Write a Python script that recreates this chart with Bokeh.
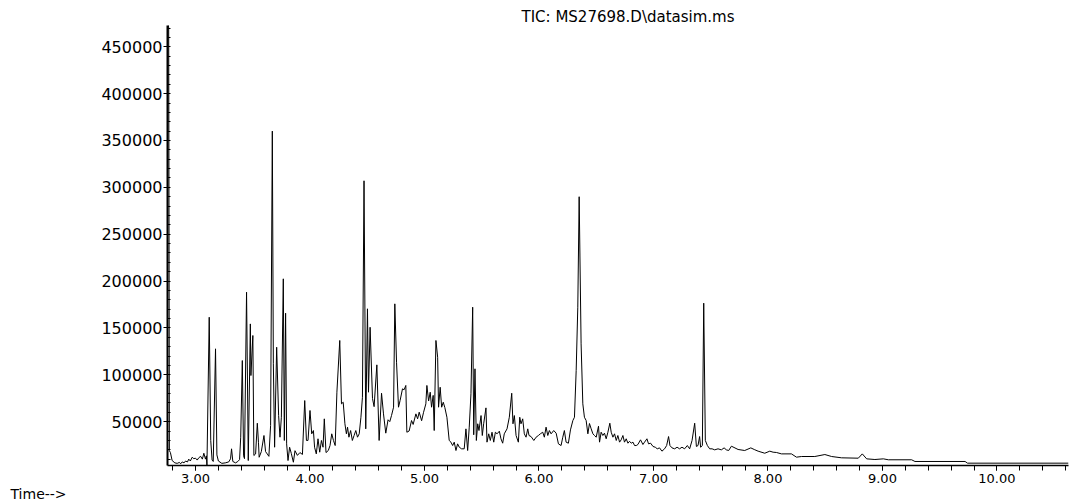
from bokeh.plotting import figure
from bokeh.models import Range1d, SingleIntervalTicker, NumeralTickFormatter, Title
from bokeh.embed import file_html
from bokeh.resources import INLINE

# Retention time (min)
time_min = [
    2.757, 2.766, 2.772, 2.781, 2.796, 2.820, 2.840, 2.860, 2.870, 2.884,
    2.900, 2.913, 2.930, 2.941, 2.955, 2.971, 2.985, 3.000, 3.015, 3.029,
    3.045, 3.060, 3.073, 3.087, 3.095, 3.100, 3.120, 3.133, 3.145, 3.155,
    3.175, 3.187, 3.200, 3.230, 3.260, 3.290, 3.306, 3.315, 3.326, 3.350,
    3.370, 3.385, 3.395, 3.409, 3.420, 3.428, 3.446, 3.461, 3.479, 3.484,
    3.501, 3.510, 3.525, 3.540, 3.550, 3.556, 3.575, 3.598, 3.612, 3.627,
    3.641, 3.656, 3.671, 3.680, 3.691, 3.709, 3.726, 3.738, 3.750, 3.767,
    3.776, 3.787, 3.796, 3.808, 3.822, 3.837, 3.855, 3.869, 3.890, 3.912,
    3.934, 3.954,
    3.969, 3.983, 4.000, 4.015, 4.030, 4.040, 4.055, 4.070, 4.085, 4.100,
    4.114, 4.125, 4.140, 4.160, 4.175, 4.190, 4.205, 4.220, 4.235, 4.260,
    4.275, 4.290, 4.305, 4.318, 4.328, 4.340, 4.355, 4.370, 4.385, 4.400,
    4.415, 4.430, 4.445, 4.458, 4.472, 4.487, 4.502, 4.511, 4.525, 4.546,
    4.560, 4.584, 4.604, 4.625, 4.642, 4.662, 4.682, 4.697, 4.712, 4.730,
    4.741, 4.756, 4.773, 4.787, 4.808, 4.822, 4.837, 4.846, 4.866, 4.887,
    4.901, 4.925, 4.940, 4.954, 4.975, 4.992, 5.012, 5.021, 5.036, 5.050,
    5.062, 5.076, 5.085, 5.100, 5.115, 5.123, 5.137, 5.150, 5.164, 5.178,
    5.196,
    5.216, 5.231, 5.246, 5.260, 5.275, 5.289, 5.304, 5.324, 5.347, 5.362,
    5.377, 5.391, 5.406, 5.421, 5.430, 5.441, 5.453, 5.465, 5.476, 5.494,
    5.505, 5.517, 5.537, 5.546, 5.561, 5.575, 5.590, 5.605, 5.619, 5.634,
    5.654, 5.668, 5.683, 5.697, 5.721, 5.741, 5.762, 5.773, 5.785, 5.800,
    5.820, 5.832, 5.843, 5.858, 5.872, 5.887, 5.902, 5.913, 5.931, 5.955,
    5.975, 5.995, 6.012, 6.033, 6.047, 6.062, 6.077, 6.091, 6.106, 6.129,
    6.150, 6.170, 6.193, 6.208, 6.222, 6.237, 6.257, 6.275, 6.296, 6.310,
    6.325, 6.339, 6.351, 6.368, 6.383, 6.397, 6.412, 6.427, 6.441,
    6.456, 6.471, 6.485, 6.500, 6.520, 6.529, 6.543, 6.558, 6.572, 6.587,
    6.602, 6.619, 6.631, 6.646, 6.660, 6.675, 6.689, 6.704, 6.718, 6.733,
    6.747, 6.762, 6.777, 6.791, 6.806, 6.821, 6.835, 6.850, 6.864, 6.887,
    6.908, 6.922, 6.943, 6.957, 6.975, 6.996, 7.016, 7.033, 7.053, 7.074,
    7.097, 7.115, 7.132, 7.144, 7.162, 7.185, 7.206, 7.228, 7.249, 7.272,
    7.296, 7.316, 7.337, 7.360, 7.375, 7.389, 7.403, 7.412, 7.427, 7.439,
    7.453, 7.471, 7.491, 7.512, 7.535, 7.564, 7.593, 7.617, 7.637, 7.657,
    7.681,
    7.739, 7.797, 7.850, 7.885, 7.914, 7.972, 8.016, 8.045, 8.074, 8.118,
    8.205, 8.249, 8.293, 8.409, 8.497, 8.556, 8.643, 8.789, 8.824, 8.862,
    8.934, 9.008, 9.052, 9.255, 9.284, 9.722, 9.743, 10.625,
]

# Total ion current (abundance)
abundance = [
    480000, 470000, 19000, 17000, 8500, 6000, 5500, 6500, 5000, 7000,
    6000, 8000, 7000, 10000, 8000, 12000, 10500, 11000, 9000, 11500,
    13000, 10000, 16300, 10000, 13500, 3200, 161400, 30000, 9000, 7500,
    127700, 14500, 8000, 5500, 6000, 7000, 10300, 21000, 7500, 6000,
    7500, 9500, 33400, 115200, 13500, 10500, 188100, 8500, 154300, 99200,
    141900, 13900, 15500, 48300, 28000, 12000, 18000, 35200, 18000, 15500,
    13000, 45900, 360000, 111700, 22700, 129400, 56500, 33400, 54700, 202400,
    29900, 165700, 26300, 8500, 22700, 16000, 6700, 19000, 14000, 17000,
    15000, 72500,
    29900, 30000, 61900, 37000, 40500, 22700, 15600, 31700, 17400, 29900,
    22700, 53000, 17000, 19200, 24500, 37000, 29900, 24500, 81400, 136600,
    69000, 70700, 47700, 37000, 44100, 33400, 40500, 29900, 35200, 40500,
    33400, 37000, 54700, 76000, 307000, 42300, 170400, 81400, 150700, 74700,
    66000, 110600, 29900, 80300, 58300, 37700, 52000, 50000, 56500, 65400,
    175700, 113400, 65400, 72500, 85000, 84000, 88600, 38700, 40000, 51200,
    47000, 58300, 53000, 60100, 51000, 60000, 69000, 88600, 72000, 81400,
    65400, 78000, 40500, 136600, 118700, 65400, 86700, 65400, 70700, 65000,
    54700,
    29900, 28100, 24500, 28100, 19200, 26300, 22700, 21000, 21000, 42300,
    19200, 44100, 79700, 172100, 36000, 106400, 29900, 47700, 40500, 56500,
    35200, 47700, 64700, 28100, 37000, 29900, 38700, 28100, 38700, 37000,
    39800, 31700, 27000, 37000, 42300, 54700, 80300, 47700, 56500, 35200,
    28100, 54700, 47700, 53000, 37000, 33400, 42300, 35200, 34100, 29900,
    33400, 35200, 37000, 38700, 33400, 44100, 35200, 40500, 37000, 40500,
    37700, 26300, 24500, 33400, 40500, 28100, 27000, 41200, 51200, 54700,
    104600, 172100, 290000, 133000, 69000, 54700, 51200, 37000, 48000,
    42300, 37000, 35200, 33400, 45100, 28100, 38700, 35200, 37700, 31700,
    38700, 48300, 38700, 33400, 37000, 29900, 35200, 28100, 30600, 35200,
    28100, 31700, 27000, 29000, 27000, 28100, 24500, 24500, 25600, 30600,
    25600, 28100, 31700, 26300, 27000, 23500, 22700, 21000, 22000, 18500,
    21000, 24500, 34100, 24500, 22000, 21000, 22700, 21000, 22700, 21000,
    24500, 21000, 29900, 48300, 23500, 24500, 34100, 22700, 24500, 176400,
    29900, 24500, 21000, 21000, 19900, 21000, 19900, 22000, 19900, 19200,
    23800,
    20300, 19200, 22000, 20000, 18500, 16300, 18500, 17400, 17100, 15600,
    15600, 12100, 12800, 12800, 14900, 12800, 11400, 11000, 15600, 10300,
    9600, 10300, 9300, 9300, 7500, 7500, 5700, 5700,
]

title_text = "TIC: MS27698.D\\datasim.ms"
x_label_text = "Time-->"

p = figure(
    frame_width=901, frame_height=440,
    output_backend="svg", toolbar_location=None,
    x_range=Range1d(2.7555, 10.625), y_range=Range1d(3200, 472700),
    min_border_left=167, min_border_right=1, min_border_top=25, min_border_bottom=0,
    background_fill_color="white", border_fill_color="white",
)
p.outline_line_color = None
p.xgrid.visible = False
p.ygrid.visible = False

p.line(time_min, abundance, line_color="black", line_width=1)

# x axis
p.xaxis.ticker = SingleIntervalTicker(interval=1, num_minor_ticks=5)
p.xaxis.formatter = NumeralTickFormatter(format="0.00")
p.xaxis.major_tick_out = 5
p.xaxis.major_tick_in = 0
p.xaxis.minor_tick_out = 5
p.xaxis.minor_tick_in = 0
p.xaxis.axis_line_width = 1.5
p.xaxis.major_label_standoff = 3
p.xaxis.major_label_text_font = "DejaVu Sans"
p.xaxis.major_label_text_font_size = "13px"
p.xaxis.major_label_text_color = "black"
p.xaxis.axis_line_color = "black"
p.xaxis.major_tick_line_color = "black"
p.xaxis.minor_tick_line_color = "black"

# y axis
p.yaxis.ticker = SingleIntervalTicker(interval=50000, num_minor_ticks=5)
p.yaxis.formatter = NumeralTickFormatter(format="0")
p.yaxis.major_tick_out = 4
p.yaxis.major_tick_in = 0
p.yaxis.minor_tick_out = 0
p.yaxis.minor_tick_in = 3
p.yaxis.axis_line_width = 2
p.yaxis.major_label_standoff = 1
p.yaxis.major_label_text_font = "DejaVu Sans"
p.yaxis.major_label_text_font_size = "16px"
p.yaxis.major_label_text_color = "black"
p.yaxis.axis_line_color = "black"
p.yaxis.major_tick_line_color = "black"
p.yaxis.minor_tick_line_color = "black"

p.title.text = title_text
p.title.align = "left"
p.title.offset = 354
p.title.standoff = 0
p.title.vertical_align = "bottom"
p.title.text_font = "DejaVu Sans"
p.title.text_font_size = "15px"
p.title.text_font_style = "normal"
p.title.text_color = "black"

p.add_layout(Title(text=x_label_text, align="left", offset=-157, standoff=0,
                   vertical_align="top", text_font="DejaVu Sans", text_font_size="14px",
                   text_font_style="normal", text_color="black"), "below")

open("out.html", "w").write(file_html(p, INLINE))
